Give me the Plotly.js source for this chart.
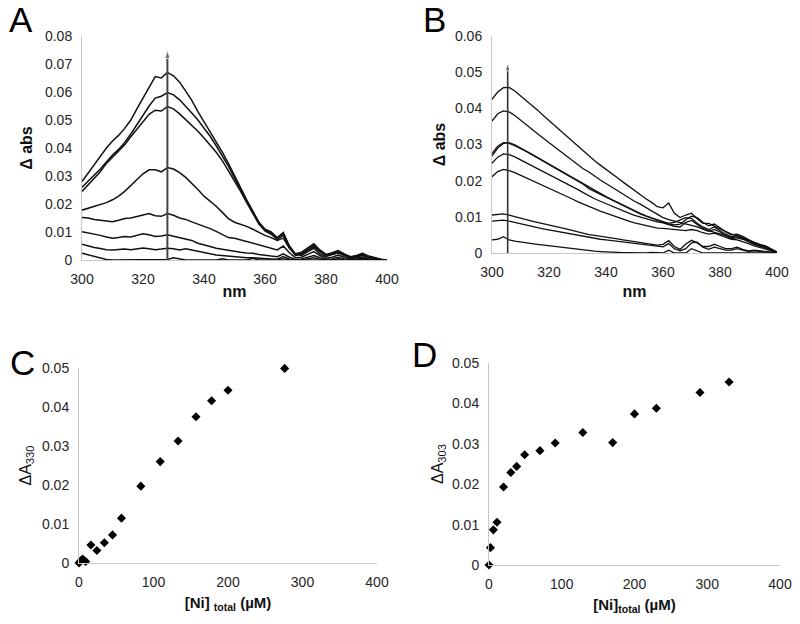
<!DOCTYPE html>
<html><head><meta charset="utf-8">
<script src="https://cdn.plot.ly/plotly-3.0.1.min.js"></script>
<style>html,body{margin:0;padding:0;background:#fff}#chart{width:800px;height:624px}</style>
</head><body><div id="chart"></div>
<script>
// wavelength grid (nm)
const wavelengths = [300,302,304,306,308,310,312,314,316,318,320,322,324,326,328,330,332,334,336,338,340,342,344,346,348,350,352,354,356,358,360,362,364,366,368,370,372,374,376,378,380,382,384,386,388,390,392,394,396,398,400];

// Panel A difference spectra
const specA1 = [.0280,.0310,.0340,.0370,.0400,.0425,.0445,.0470,.0500,.0540,.0580,.0620,.0655,.0650,.0670,.0658,.0635,.0603,.0570,.0530,.0495,.0460,.0422,.0385,.0345,.0300,.0258,.0215,.0175,.0135,.0110,.0100,.0080,.0098,.0050,.0022,.0028,.0042,.0058,.0036,.0020,.0026,.0034,.0022,.0012,.0016,.0024,.0014,.0008,.0003,0];
const specA2 = [.0260,.0282,.0302,.0325,.0350,.0375,.0395,.0420,.0450,.0485,.0520,.0550,.0578,.0585,.0598,.0590,.0572,.0550,.0525,.0500,.0472,.0442,.0408,.0372,.0335,.0292,.0252,.0210,.0170,.0132,.0108,.0098,.0078,.0092,.0048,.0018,.0024,.0038,.0052,.0032,.0018,.0022,.0030,.0020,.0010,.0014,.0020,.0012,.0006,.0002,0];
const specA3 = [.0245,.0268,.0290,.0315,.0345,.0368,.0390,.0412,.0440,.0468,.0495,.0520,.0535,.0532,.0548,.0540,.0522,.0502,.0482,.0460,.0436,.0412,.0385,.0355,.0320,.0282,.0245,.0205,.0165,.0128,.0104,.0092,.0074,.0088,.0044,.0016,.0020,.0034,.0048,.0030,.0016,.0020,.0026,.0018,.0009,.0012,.0018,.0010,.0005,.0002,0];
const specA4 = [.0178,.0185,.0192,.0198,.0205,.0215,.0228,.0245,.0265,.0288,.0308,.0322,.0322,.0315,.0330,.0325,.0312,.0295,.0275,.0252,.0228,.0210,.0192,.0170,.0148,.0135,.0128,.0120,.0110,.0098,.0088,.0080,.0070,.0078,.0042,.0020,.0016,.0030,.0042,.0022,.0012,.0020,.0026,.0016,.0008,.0012,.0016,.0008,.0004,.0002,0];
const specA5 = [.0152,.0150,.0145,.0143,.0140,.0137,.0142,.0148,.0150,.0155,.0162,.0166,.0158,.0156,.0166,.0160,.0150,.0145,.0136,.0128,.0122,.0112,.0102,.0092,.0080,.0078,.0072,.0065,.0058,.0052,.0046,.0042,.0036,.0050,.0026,.0008,.0010,.0020,.0030,.0016,.0006,.0010,.0018,.0010,.0004,.0008,.0010,.0004,.0002,0,0];
const specA6 = [.0101,.0097,.0092,.0088,.0082,.0078,.0080,.0084,.0082,.0088,.0094,.0090,.0084,.0086,.0090,.0085,.0080,.0077,.0070,.0060,.0055,.0048,.0042,.0038,.0034,.0030,.0028,.0025,.0024,.0020,.0016,.0014,.0012,.0022,.0010,.0002,.0004,.0010,.0016,.0008,.0002,.0004,.0010,.0004,.0001,.0004,.0006,.0002,0,0,0];
const specA7 = [.0056,.0050,.0045,.0041,.0037,.0036,.0038,.0039,.0037,.0040,.0043,.0040,.0037,.0039,.0042,.0040,.0036,.0040,.0035,.0030,.0025,.0022,.0018,.0016,.0013,.0011,.0010,.0008,.0008,.0006,.0004,.0004,.0003,.0012,.0003,0,0,.0004,.0008,.0002,0,0,.0004,0,0,0,.0003,0,0,0,0];
const specA8 = [.0024,.0018,.0012,.0006,.0002,0,0,0,0,0,0,.0001,.0002,0,.0002,.0008,.0004,0,0,0,0,0,0,.0004,0,0,0,0,.0006,0,0,0,0,.0004,0,0,0,0,0,0,0,0,0,0,0,0,0,0,0,0,0];

// Panel B difference spectra
const specB1 = [.0425,.0445,.0457,.0458,.0448,.0435,.0422,.0408,.0395,.0380,.0366,.0352,.0338,.0325,.0310,.0295,.0283,.0268,.0255,.0243,.0232,.0220,.0208,.0196,.0184,.0172,.0160,.0150,.0140,.0128,.0125,.0138,.0110,.0098,.0105,.0110,.0095,.0082,.0082,.0075,.0068,.0060,.0052,.0048,.0042,.0035,.0028,.0024,.0020,.0012,.0003];
const specB2 = [.0365,.0385,.0393,.0390,.0380,.0368,.0355,.0342,.0330,.0317,.0305,.0292,.0280,.0268,.0256,.0244,.0233,.0224,.0212,.0202,.0192,.0182,.0172,.0162,.0152,.0143,.0135,.0126,.0117,.0108,.0098,.0092,.0088,.0085,.0082,.0078,.0072,.0066,.0060,.0065,.0058,.0048,.0042,.0045,.0040,.0032,.0025,.0018,.0015,.0008,0];
const specB3 = [.0275,.0295,.0305,.0303,.0297,.0290,.0281,.0272,.0263,.0254,.0245,.0236,.0227,.0218,.0208,.0198,.0190,.0178,.0170,.0162,.0154,.0146,.0138,.0130,.0122,.0114,.0108,.0102,.0097,.0092,.0088,.0082,.0085,.0092,.0098,.0096,.0082,.0072,.0065,.0072,.0062,.0052,.0045,.0048,.0042,.0034,.0026,.0022,.0018,.0010,.0002];
const specB4 = [.0268,.0290,.0303,.0305,.0299,.0291,.0282,.0273,.0264,.0255,.0246,.0237,.0228,.0219,.0210,.0200,.0191,.0181,.0172,.0164,.0156,.0148,.0140,.0132,.0125,.0117,.0110,.0103,.0096,.0090,.0085,.0080,.0078,.0080,.0092,.0102,.0098,.0085,.0075,.0080,.0070,.0058,.0050,.0052,.0046,.0036,.0028,.0022,.0016,.0008,.0002];
const specB5 = [.0248,.0265,.0274,.0272,.0266,.0258,.0250,.0242,.0233,.0225,.0217,.0208,.0200,.0192,.0184,.0176,.0167,.0158,.0150,.0143,.0136,.0129,.0122,.0116,.0110,.0104,.0099,.0094,.0090,.0086,.0083,.0078,.0074,.0072,.0085,.0090,.0078,.0068,.0062,.0058,.0054,.0048,.0040,.0042,.0038,.0030,.0024,.0020,.0015,.0008,0];
const specB6 = [.0211,.0225,.0231,.0228,.0222,.0215,.0208,.0201,.0194,.0186,.0179,.0172,.0164,.0157,.0150,.0142,.0135,.0128,.0122,.0116,.0110,.0104,.0098,.0093,.0088,.0083,.0079,.0075,.0072,.0069,.0068,.0066,.0064,.0062,.0062,.0065,.0062,.0056,.0052,.0055,.0050,.0044,.0038,.0036,.0032,.0026,.0020,.0016,.0012,.0006,0];
const specB7 = [.0105,.0107,.0108,.0105,.0100,.0095,.0092,.0088,.0084,.0080,.0077,.0073,.0070,.0067,.0063,.0058,.0055,.0051,.0049,.0047,.0044,.0041,.0039,.0036,.0034,.0031,.0029,.0027,.0025,.0022,.0024,.0034,.0018,.0010,.0025,.0035,.0028,.0018,.0018,.0024,.0018,.0012,.0012,.0016,.0010,.0006,.0008,.0006,.0004,.0002,0];
const specB8 = [.0088,.0090,.0091,.0088,.0084,.0080,.0077,.0073,.0070,.0067,.0064,.0061,.0058,.0054,.0051,.0048,.0045,.0042,.0040,.0038,.0036,.0034,.0032,.0030,.0028,.0026,.0024,.0022,.0020,.0018,.0017,.0026,.0012,.0006,.0012,.0028,.0030,.0016,.0010,.0016,.0012,.0008,.0008,.0012,.0008,.0004,.0006,.0004,.0002,0,0];
const specB9 = [.0036,.0038,.0045,.0036,.0033,.0030,.0028,.0026,.0024,.0022,.0019,.0017,.0015,.0013,.0011,.0010,.0008,.0006,.0005,.0004,.0003,.0002,.0002,.0001,.0001,0,0,0,.0002,0,0,.0008,0,0,0,.0012,.0005,0,0,0,0,0,0,0,0,0,0,0,0,0,0];

// Panel C: titration at 330 nm
const niTotalC = [0, 2.5, 5, 9, 16, 24, 34, 45, 57, 83, 109, 133, 157, 178, 200, 276];
const dA330 = [0, 0.0006, 0.0010, 0.0004, 0.0046, 0.0032, 0.0052, 0.0072, 0.0115, 0.0197, 0.0260, 0.0313, 0.0375, 0.0416, 0.0443, 0.0499];

// Panel D: titration at 303 nm
const niTotalD = [0, 2, 6, 11, 20, 30, 38, 49, 70, 91, 129, 170, 200, 230, 290, 330];
const dA303 = [0, 0.0043, 0.0087, 0.0106, 0.0193, 0.0229, 0.0244, 0.0273, 0.0283, 0.0302, 0.0328, 0.0303, 0.0374, 0.0388, 0.0427, 0.0453];

// Arrows marking the monitored wavelength (from baseline to tip)
const arrowA = {nm: [328, 328], dA: [0, 0.075]};
const arrowB = {nm: [305.5, 305.5], dA: [0, 0.0525]};

const FONT = 'Liberation Sans, Arial, sans-serif';
const specsA = [specA1, specA2, specA3, specA4, specA5, specA6, specA7, specA8];
const specsB = [specB1, specB2, specB3, specB4, specB5, specB6, specB7, specB8, specB9];

const traces = [];
specsA.forEach(s => traces.push({x: wavelengths, y: s, type: 'scatter', mode: 'lines', xaxis: 'x', yaxis: 'y', line: {color: '#111', width: 1.5}, hoverinfo: 'skip'}));
specsB.forEach(s => traces.push({x: wavelengths, y: s, type: 'scatter', mode: 'lines', xaxis: 'x2', yaxis: 'y2', line: {color: '#111', width: 1.3}, hoverinfo: 'skip'}));
traces.push({x: arrowA.nm, y: arrowA.dA, type: 'scatter', mode: 'lines+markers', xaxis: 'x', yaxis: 'y', line: {color: '#444', width: 2}, marker: {symbol: 'arrow', angleref: 'previous', size: [0, 9], color: '#444'}, cliponaxis: false, hoverinfo: 'skip'});
traces.push({x: arrowB.nm, y: arrowB.dA, type: 'scatter', mode: 'lines+markers', xaxis: 'x2', yaxis: 'y2', line: {color: '#333', width: 1.6}, marker: {symbol: 'arrow', angleref: 'previous', size: [0, 8], color: '#333'}, cliponaxis: false, hoverinfo: 'skip'});
traces.push({x: niTotalC, y: dA330, type: 'scatter', mode: 'markers', xaxis: 'x3', yaxis: 'y3', marker: {symbol: 'diamond', size: 7, color: '#000'}, cliponaxis: false});
traces.push({x: niTotalD, y: dA303, type: 'scatter', mode: 'markers', xaxis: 'x4', yaxis: 'y4', marker: {symbol: 'diamond', size: 7, color: '#000'}, cliponaxis: false});

function ax(domain, range, dtick, anchor, title, extra) {
  return Object.assign({
    domain, range, dtick, tick0: 0, anchor,
    showline: true, linecolor: '#c8c8c8', linewidth: 1,
    showgrid: false, zeroline: false, ticks: '',
    ticklabelstandoff: 6,
    tickfont: {family: FONT, size: 14, color: '#262626'},
    title: title, fixedrange: true, automargin: false
  }, extra || {});
}
const W = 800, H = 624;
const px = (a, b) => [a / W, b / W];
const py = (top, bottom) => [1 - bottom / H, 1 - top / H];
const tf = (bold, size) => ({family: FONT, size: size, color: '#111', weight: bold ? 'bold' : 'normal'});

const layout = {
  width: W, height: H,
  margin: {l: 0, r: 0, t: 0, b: 0},
  paper_bgcolor: '#fff', plot_bgcolor: '#fff',
  showlegend: false,
  xaxis: ax(px(82, 387), [300, 400], 20, 'y', {text: '<b>nm</b>', font: tf(true, 16), standoff: 0}),
  yaxis: ax(py(36, 260), [0, 0.08], 0.01, 'x', {text: '<b>Δ abs</b>', font: tf(true, 16), standoff: 8}),
  xaxis2: ax(px(492, 777), [300, 400], 20, 'y2', {text: '<b>nm</b>', font: tf(true, 16), standoff: 7}),
  yaxis2: ax(py(36, 253), [0, 0.06], 0.01, 'x2', {text: '<b>Δ abs</b>', font: tf(true, 16), standoff: 5}),
  xaxis3: ax(px(79, 377), [0, 400], 100, 'y3', {text: '<b>[Ni] <sub>total</sub> (µM)</b>', font: tf(true, 15), standoff: 8}),
  yaxis3: ax(py(368, 563), [0, 0.05], 0.01, 'x3', {text: 'ΔA<sub>330</sub>', font: tf(false, 16), standoff: 6}),
  xaxis4: ax(px(489, 780), [0, 400], 100, 'y4', {text: '<b>[Ni]<sub>total</sub> (µM)</b>', font: tf(true, 15), standoff: 8}),
  yaxis4: ax(py(363, 565), [0, 0.05], 0.01, 'x4', {text: 'ΔA<sub>303</sub>', font: tf(false, 16), standoff: 4}),
  annotations: [
    {text: 'A', x: 21 / W, y: 1 - 19 / H, xref: 'paper', yref: 'paper', xanchor: 'center', yanchor: 'middle', showarrow: false, font: {family: FONT, size: 35, color: '#000'}},
    {text: 'B', x: 434 / W, y: 1 - 19 / H, xref: 'paper', yref: 'paper', xanchor: 'center', yanchor: 'middle', showarrow: false, font: {family: FONT, size: 35, color: '#000'}},
    {text: 'C', x: 22 / W, y: 1 - 362 / H, xref: 'paper', yref: 'paper', xanchor: 'center', yanchor: 'middle', showarrow: false, font: {family: FONT, size: 35, color: '#000'}},
    {text: 'D', x: 424 / W, y: 1 - 354 / H, xref: 'paper', yref: 'paper', xanchor: 'center', yanchor: 'middle', showarrow: false, font: {family: FONT, size: 35, color: '#000'}}
  ]
};

Plotly.newPlot('chart', traces, layout, {staticPlot: true, displayModeBar: false});
</script>
</body></html>
